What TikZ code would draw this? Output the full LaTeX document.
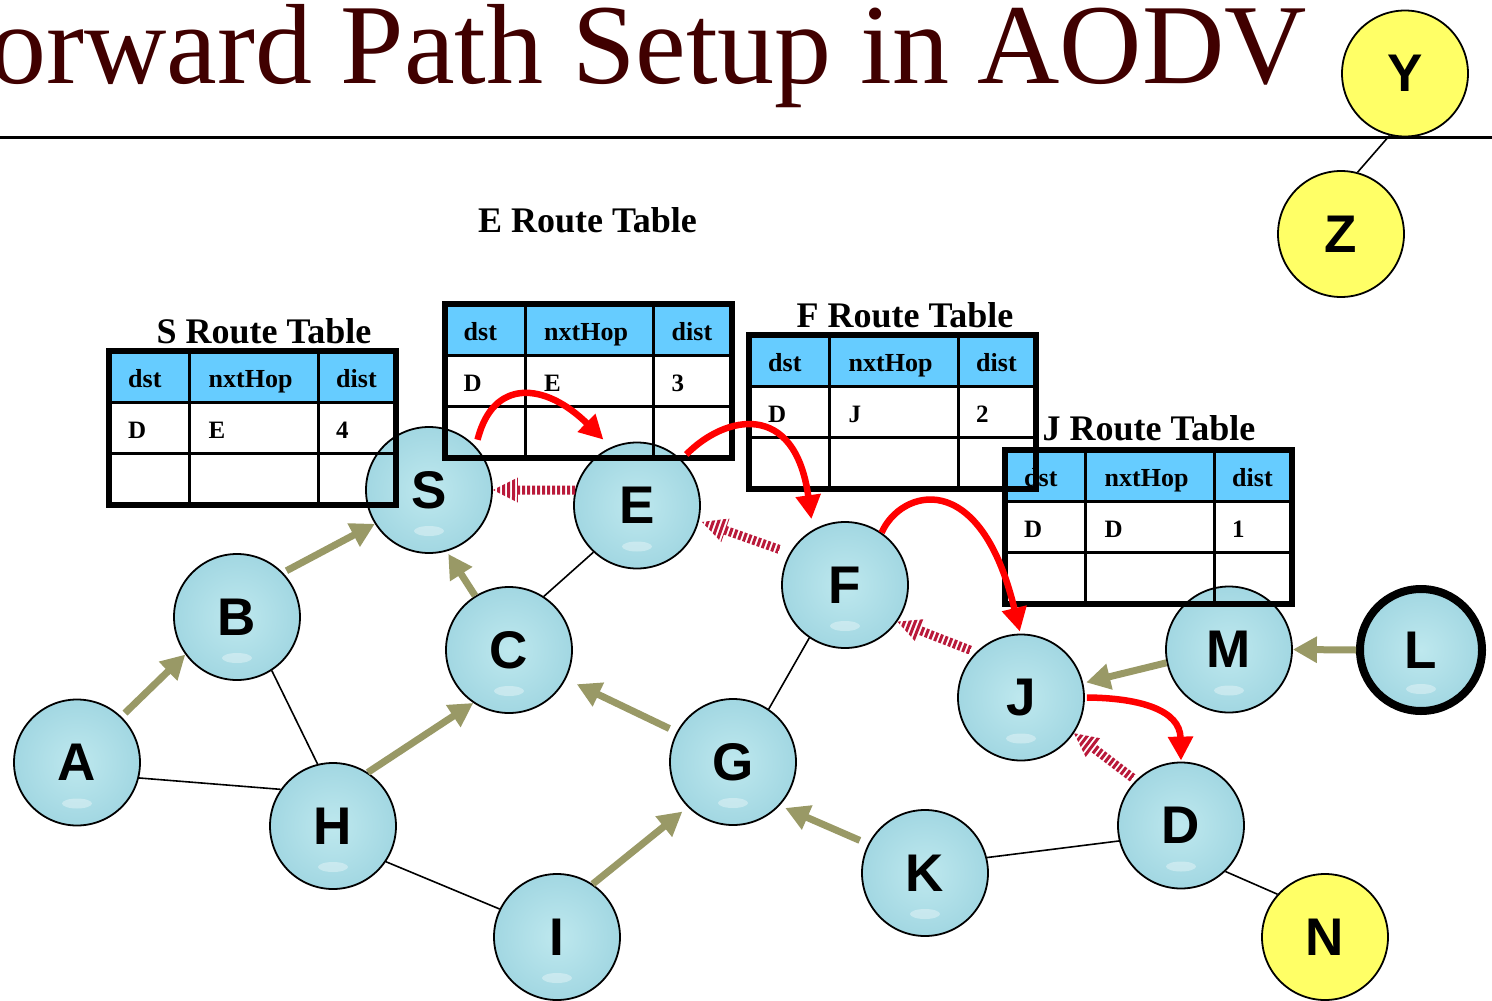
\documentclass[tikz,border=0pt]{standalone}
\usepackage{fontspec}
\setmainfont{Liberation Serif}
\newfontfamily\hostfont{Liberation Sans}
\usetikzlibrary{arrows.meta,calc}

\definecolor{titlemaroon}{RGB}{64,0,0}
\definecolor{fwdolive}{RGB}{153,153,102}
\definecolor{hdrblue}{RGB}{102,204,255}
\definecolor{revred}{RGB}{185,25,58}
\definecolor{hostlight}{RGB}{190,232,238}
\definecolor{hostdark}{RGB}{162,215,226}
\definecolor{spareyellow}{RGB}{255,255,102}

\tikzset{
  host/.style={circle, draw=black, line width=1.8pt, minimum size=126pt, inner sep=0pt,
    inner color=hostlight, outer color=hostdark,
    path picture={
      \fill[white, opacity=.35, rotate around={25:([yshift=22pt]path picture bounding box.south)}]
        ([yshift=22pt]path picture bounding box.south) ellipse (15pt and 5pt);},
    font=\hostfont\bfseries\fontsize{53}{53}\selectfont},
  spare/.style={circle, draw=black, line width=1.8pt, minimum size=126pt, inner sep=0pt,
    fill=spareyellow, font=\hostfont\bfseries\fontsize{53}{53}\selectfont},
  link/.style={draw=black, line width=1.6pt},
  fwd/.style={draw=fwdolive, line width=7pt, -{Triangle[length=24pt,width=25pt]}},
  rrep/.style={draw=red, line width=6.5pt, -{Triangle[length=24pt,width=24pt]}},
  tabtitle/.style={font=\bfseries\fontsize{36}{36}\selectfont, anchor=base, inner sep=0pt},
  headcell/.style={font=\bfseries\fontsize{26}{26}\selectfont, anchor=base west, inner sep=0pt},
  bodycell/.style={font=\bfseries\fontsize{25}{25}\selectfont, anchor=base west, inner sep=0pt},
}

% striped reverse-path arrow from #1 to #2
\newcommand{\hatcharrow}[2]{%
  \begin{scope}
    \coordinate (hb) at ($(#2)!25pt!(#1)$);
    \clip ($(#1)!4.5pt!90:(#2)$) -- ($(hb)!4.5pt!90:(#2)$) -- ($(hb)!12.5pt!90:(#2)$)
      -- (#2) -- ($(hb)!12.5pt!-90:(#2)$) -- ($(hb)!4.5pt!-90:(#2)$)
      -- ($(#1)!4.5pt!-90:(#2)$) -- cycle;
    \draw[revred, line width=30pt, dash pattern=on 3pt off 2pt] (#1) -- (#2);
  \end{scope}}

% route table: id, top-left x, top-left y, dst, nxtHop, dist
\newcommand{\routetable}[6]{%
  \begin{scope}[shift={(#2,#3)}]
    \fill[hdrblue] (0,0) rectangle (287,51);
    \draw[line width=3pt] (80.5,0) -- (80.5,154) (209,0) -- (209,154)
      (0,51) -- (287,51) (0,102) -- (287,102);
    \draw[line width=6pt] (0,0) rectangle (287,154);
    \node[headcell] (#1-h1) at (19,36) {dst};
    \node[headcell] (#1-h2) at (99.5,36) {nxtHop};
    \node[headcell] (#1-h3) at (227,36) {dist};
    \node[bodycell] (#1-r1) at (19,87) {#4};
    \node[bodycell] (#1-r2) at (99.5,87) {#5};
    \node[bodycell] (#1-r3) at (227,87) {#6};
  \end{scope}}

\begin{document}
\begin{tikzpicture}[x=1pt, y=-1pt]
\useasboundingbox (0,0) rectangle (1492,1001);

% heading and rule
\node[anchor=base east, inner sep=0pt, text=titlemaroon,
  font=\fontsize{114}{114}\selectfont] (title) at (1307,83) {Forward Path Setup in AODV};
\draw[line width=3pt] (0,137) -- (1492,137);

% hosts
\node[host] (A) at (77,762.5) {A};
\node[host] (B) at (237,617) {B};
\node[host] (S) at (429,490) {S};
\node[host] (C) at (509,650) {C};
\node[host] (E) at (637,505.5) {E};
\node[host] (F) at (845,585) {F};
\node[host] (G) at (733,762) {G};
\node[host] (H) at (333,826) {H};
\node[host] (I) at (557,937) {I};
\node[host] (K) at (925,873) {K};
\node[host] (J) at (1021,697.5) {J};
\node[host] (D) at (1181,825.5) {D};
\node[host] (M) at (1229,649.5) {M};
\node[host, line width=8pt, minimum size=122pt] (L) at (1421,650) {L};
\node[spare] (N) at (1325,937) {N};
\node[spare] (Y) at (1405,73.5) {Y};
\node[spare] (Z) at (1341,234) {Z};

% plain links
\draw[link] (A.346) -- (H.145);
\draw[link] (B.303) -- (H.104);
\draw[link] (H.326) -- (I.154);
\draw[link] (C.57) -- (E.227);
\draw[link] (F.236) -- (G.56);
\draw[link] (K.14) -- (D.194);
\draw[link] (D.314) -- (N.138);
\draw[link] (Y.256) -- (Z.75);

% forward path (reverse route entries)
\draw[fwd, shorten <=5pt] (A.46) -- (B.216);
\draw[fwd, shorten <=4pt] (B.44) -- (S.212);
\draw[fwd, shorten >=3pt] (C.122) -- (S.286);
\draw[fwd] (H.57) -- (C.236);
\draw[fwd, shorten >=7pt] (I.56) -- (G.225);
\draw[fwd, shorten <=8pt, shorten >=12pt] (G.152) -- (C.333);
\draw[fwd, shorten <=9pt, shorten >=6pt] (K.153) -- (G.317);
\draw[fwd, shorten >=3pt] (M.192) -- (J.13);
\draw[fwd] (L.180) -- (M.0);

% striped arrows
\hatcharrow{E.166}{S.0}
\coordinate (fe0) at ($(F.150)!11pt!(E.346)$);
\coordinate (fe1) at ($(E.346)!3pt!(F.150)$);
\hatcharrow{fe0}{fe1}
\coordinate (jf0) at ($(J.135)!6pt!(F.325)$);
\hatcharrow{jf0}{F.325}
\coordinate (dj0) at ($(D.135)!4pt!(J.326)$);
\hatcharrow{dj0}{J.326}

% route tables
\node[tabtitle] (Stitle) at (264,343) {S Route Table};
\routetable{St}{109}{351}{D}{E}{4}
\node[tabtitle] (Etitle) at (587.5,232) {E Route Table};
\routetable{Et}{444.5}{304}{D}{E}{3}
\node[tabtitle] (Jtitle) at (1149,440) {J Route Table};
\routetable{Jt}{1005}{450}{D}{D}{1}
\node[tabtitle] (Ftitle) at (905,327) {F Route Table};
\routetable{Ft}{749}{335}{D}{J}{2}

% route reply path
\draw[rrep] ($(S.46)!-6pt!(S.center)$) .. controls (493,378) and (545,382) .. ($(E.117)!-10pt!(E.center)$);
\draw[rrep] ($(E.46)!-7pt!(E.center)$) .. controls (725,415) and (795,400) .. ($(F.117)!-10pt!(F.center)$);
\draw[rrep] (F.55) .. controls (900,490) and (980,465) .. ($(J.91)!-2pt!(J.center)$);
\draw[rrep] ($(J.0)!-2pt!(J.center)$) .. controls (1140,698) and (1180,710) .. ($(D.90)!-1pt!(D.center)$);
\end{tikzpicture}
\end{document}
